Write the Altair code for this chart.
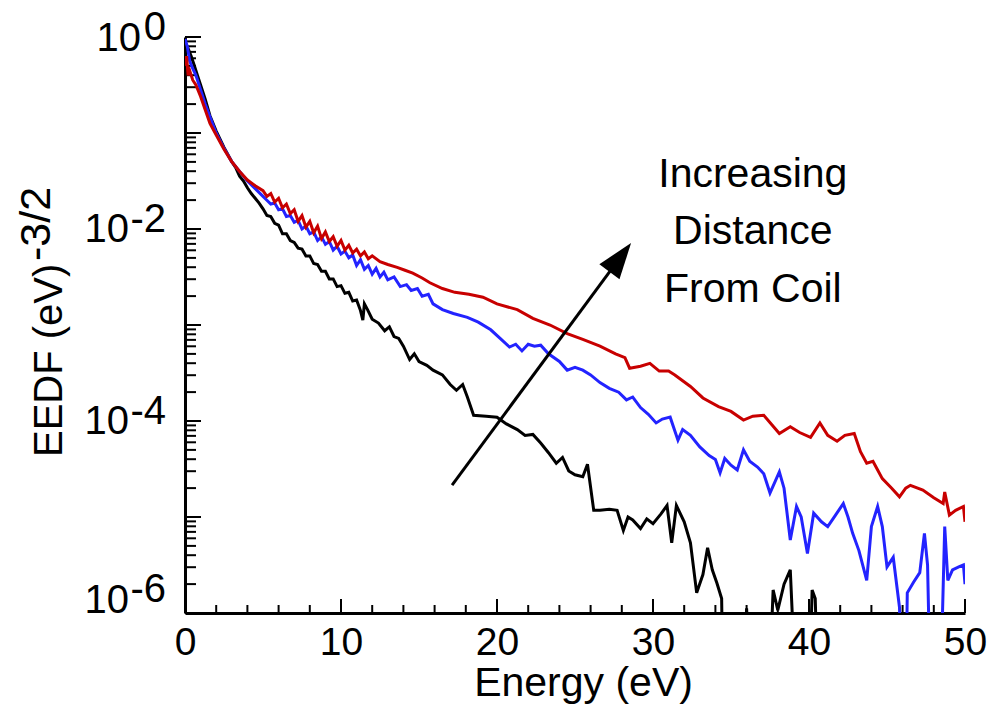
import altair as alt
import pandas as pd

# ---------------- data (log10 of EEDF) ----------------
black_E = [0.0,0.2,0.4,0.6,0.8,1.0,1.3,1.6,2.0,2.5,3.0,3.25,3.5,3.75,4.0,4.25,4.5,4.75,5.0,5.25,
           5.5,5.75,6.0,6.25,6.5,6.75,7.0,7.25,7.5,7.75,8.0,8.25,8.5,8.75,9.0,9.25,9.5,9.75,10.0,10.25,
           10.5,10.75,11.0,11.25,11.4,11.5,11.7,12.0,12.4,12.8,13.1,13.4,13.7,14.0,14.4,14.7,15.0,15.5,15.9,16.5,
           17.0,17.4,17.8,18.1,18.5,19.3,20.0,20.6,21.3,21.8,22.3,22.8,23.3,23.8,24.2,24.6,25.0,25.5,25.8,26.2,
           26.6,27.2,27.7,28.1,28.4,28.7,29.2,29.6,30.0,30.5,30.9,31.2,31.5,32.0,32.4,32.8,33.2,33.5,33.8,34.1,
           34.4,34.5,35.8,36.0,36.3,37.4,37.7,38.0,38.4,38.8,39.2,40.0,40.2,40.4,40.6,50.0]
black_log = [-0.05,-0.12,-0.2,-0.3,-0.4,-0.5,-0.65,-0.82,-0.98,-1.15,-1.3,-1.36,-1.45,-1.5,-1.57,-1.63,-1.68,-1.73,-1.79,-1.86,
             -1.87,-1.94,-1.96,-2.05,-2.05,-2.12,-2.14,-2.2,-2.21,-2.28,-2.28,-2.36,-2.37,-2.44,-2.44,-2.52,-2.52,-2.6,-2.59,-2.67,
             -2.66,-2.75,-2.74,-2.85,-2.95,-2.78,-2.84,-2.94,-2.98,-3.06,-3.02,-3.12,-3.14,-3.22,-3.36,-3.3,-3.38,-3.42,-3.47,-3.52,
             -3.62,-3.68,-3.62,-3.75,-3.94,-3.95,-3.96,-4.03,-4.09,-4.15,-4.14,-4.23,-4.33,-4.44,-4.38,-4.52,-4.56,-4.58,-4.45,-4.93,
             -4.93,-4.92,-4.93,-5.14,-5.0,-5.03,-5.12,-5.02,-5.07,-4.97,-4.88,-5.27,-4.88,-5.05,-5.27,-5.79,-5.6,-5.32,-5.55,-5.69,
             -5.85,-7,-7,-5.95,-7,-7,-5.76,-5.97,-5.7,-5.55,-7,-7,-5.76,-5.85,-7,-7]

blue_E = [0.0,0.15,0.3,0.5,0.7,1.0,1.3,1.6,2.0,2.5,3.0,3.5,4.0,4.5,5.0,5.25,5.5,5.75,6.0,6.25,
          6.5,6.75,7.0,7.25,7.5,7.75,8.0,8.25,8.5,8.75,9.0,9.25,9.5,9.75,10.0,10.25,10.5,10.75,11.0,11.25,
          11.5,11.75,12.0,12.25,12.5,12.75,13.0,13.4,13.8,14.2,14.5,14.9,15.2,15.6,15.9,16.5,17.2,18.1,18.8,19.6,
          20.2,20.8,21.2,21.6,22.0,22.4,22.8,23.3,24.0,24.5,25.0,25.5,26.0,26.6,27.2,27.8,28.3,28.7,29.2,29.7,
          30.2,30.6,31.1,31.6,31.9,32.4,33.0,33.6,34.0,34.3,34.6,35.0,35.4,35.8,36.2,36.7,37.1,37.5,38.1,38.4,
          38.8,39.2,39.5,39.9,40.3,40.8,41.2,41.7,42.2,42.5,42.8,43.2,43.7,44.0,44.4,44.7,45.0,45.4,45.8,46.0,
          46.2,46.3,46.7,47.1,47.4,47.6,47.8,48.4,48.7,48.9,49.2,49.6,49.9,50.0]
blue_log = [-0.02,-0.1,-0.25,-0.33,-0.4,-0.55,-0.7,-0.83,-1.0,-1.16,-1.3,-1.4,-1.5,-1.58,-1.66,-1.70,-1.74,-1.73,-1.80,-1.79,
            -1.87,-1.86,-1.93,-1.91,-2.0,-1.97,-2.05,-2.03,-2.12,-2.08,-2.16,-2.13,-2.22,-2.18,-2.26,-2.23,-2.30,-2.27,-2.38,-2.32,
            -2.42,-2.38,-2.47,-2.41,-2.50,-2.45,-2.53,-2.50,-2.60,-2.58,-2.64,-2.62,-2.70,-2.68,-2.78,-2.84,-2.88,-2.92,-2.97,-3.05,
            -3.14,-3.23,-3.2,-3.27,-3.2,-3.22,-3.21,-3.3,-3.38,-3.47,-3.44,-3.47,-3.52,-3.6,-3.66,-3.7,-3.78,-3.75,-3.86,-3.93,
            -4.02,-3.98,-3.96,-4.2,-4.09,-4.15,-4.27,-4.36,-4.4,-4.54,-4.39,-4.46,-4.51,-4.3,-4.42,-4.48,-4.55,-4.75,-4.53,-4.7,
            -5.24,-4.89,-5.0,-5.38,-4.96,-5.05,-5.10,-4.98,-4.86,-5.0,-5.17,-5.35,-5.66,-5.1,-4.89,-5.1,-5.52,-5.42,-5.94,-7,
            -7,-5.79,-5.68,-5.58,-5.17,-5.5,-7,-7,-5.10,-5.66,-5.55,-5.52,-5.5,-5.7]

red_E = [0.0,0.1,0.2,0.3,0.5,0.7,1.0,1.3,1.6,2.0,2.5,3.0,3.5,4.0,4.5,5.0,5.25,5.5,5.75,6.0,
         6.25,6.5,6.75,7.0,7.25,7.5,7.75,8.0,8.25,8.5,8.75,9.0,9.25,9.5,9.75,10.0,10.25,10.5,10.75,11.0,
         11.25,11.5,11.75,12.0,12.5,13.0,13.6,14.1,14.6,15.2,15.7,16.5,17.3,18.2,19.1,20.0,21.3,22.3,23.4,24.5,
         25.5,26.6,27.6,28.2,28.5,29.2,29.8,30.4,31.0,31.4,32.4,33.2,34.2,35.0,35.8,36.4,37.1,38.1,38.8,39.4,
         40.1,40.7,41.2,41.8,42.3,42.9,43.3,43.7,44.1,44.4,44.7,45.3,45.8,46.2,46.5,47.3,48.0,48.6,48.7,49.0,
         49.4,49.9,50.0]
red_log = [-0.3,-0.2,-0.4,-0.35,-0.45,-0.5,-0.62,-0.76,-0.9,-1.02,-1.17,-1.3,-1.4,-1.49,-1.55,-1.60,-1.66,-1.63,-1.72,-1.68,
           -1.78,-1.74,-1.84,-1.80,-1.92,-1.86,-1.98,-1.92,-2.04,-1.97,-2.10,-2.03,-2.13,-2.08,-2.18,-2.12,-2.22,-2.17,-2.25,-2.21,
           -2.28,-2.24,-2.31,-2.28,-2.34,-2.37,-2.4,-2.43,-2.46,-2.51,-2.56,-2.62,-2.66,-2.68,-2.71,-2.78,-2.84,-2.93,-3.0,-3.09,
           -3.15,-3.22,-3.3,-3.34,-3.45,-3.43,-3.4,-3.48,-3.48,-3.52,-3.64,-3.76,-3.85,-3.9,-3.99,-3.95,-3.94,-4.13,-4.06,-4.12,
           -4.17,-4.02,-4.15,-4.21,-4.15,-4.13,-4.32,-4.44,-4.42,-4.51,-4.6,-4.7,-4.79,-4.7,-4.67,-4.72,-4.8,-4.86,-4.74,-4.98,
           -4.93,-4.89,-5.05]

# axis ticks / labels
x_major = [0, 10, 20, 30, 40, 50]
x_minor = [2, 4, 6, 8, 12, 14, 16, 18, 22, 24, 26, 28, 32, 34, 36, 38, 42, 44, 46, 48]
y_major = [1e0, 1e-1, 1e-2, 1e-3, 1e-4, 1e-5, 1e-6]
y_minor = [k * d for d in [1e-1, 1e-2, 1e-3, 1e-4, 1e-5, 1e-6] for k in range(2, 10)]
y_label_exp = ["0", "-2", "-4", "-6"]
y_label_val = [1e0, 1e-2, 1e-4, 1e-6]

# annotation
ann_text = ["Increasing", "Distance", "From Coil"]
ann_E = [36.4, 36.4, 36.4]
ann_v = [0.0274, 0.00698, 0.00174]
arrow_E = [17.12, 27.9]
arrow_v = [2.15e-5, 5.06e-3]

FONT = "Liberation Sans"
W, H = 780, 576


def curve(E, lg):
    return pd.DataFrame({"E": E, "v": [10 ** x for x in lg]})


xs = alt.Scale(domain=[0, 50], nice=False, zero=False)
ys = alt.Scale(type="log", domain=[1e-6, 1], nice=False)

X = alt.X("E:Q", scale=xs,
          axis=alt.Axis(values=x_major, ticks=False, grid=False, domainColor="black", domainWidth=3,
                        labelFont=FONT, labelFontSize=39, labelColor="black", labelPadding=10,
                        labelFlush=False, labelOverlap=False,
                        title="Energy (eV)", titleFont=FONT, titleFontSize=41, titleFontWeight="normal",
                        titleColor="black", titleX=398, titleY=82, titleBaseline="alphabetic"))
Y = alt.Y("v:Q", scale=ys, title=None,
          axis=alt.Axis(labels=False, ticks=False, grid=False, domainColor="black", domainWidth=3))

layers = []
# inward ticks
layers.append(alt.Chart(pd.DataFrame({"E": x_major})).mark_rule(color="black", strokeWidth=2)
              .encode(x=X, y=alt.value(H), y2=alt.value(H - 14)))
layers.append(alt.Chart(pd.DataFrame({"E": x_minor})).mark_rule(color="black", strokeWidth=2)
              .encode(x=X, y=alt.value(H), y2=alt.value(H - 8)))
layers.append(alt.Chart(pd.DataFrame({"v": y_major})).mark_rule(color="black", strokeWidth=2)
              .encode(y=Y, x=alt.value(0), x2=alt.value(16)))
layers.append(alt.Chart(pd.DataFrame({"v": y_minor})).mark_rule(color="black", strokeWidth=2)
              .encode(y=Y, x=alt.value(0), x2=alt.value(11)))

# y tick labels "10" with superscript exponent
lab = pd.DataFrame({"v": y_label_val, "e": y_label_exp, "b": ["10"] * 4})
txt = dict(font=FONT, fontSize=40, color="black", align="right", baseline="alphabetic")
layers.append(alt.Chart(lab.iloc[[0]]).mark_text(dy=14, **txt).encode(y=Y, x=alt.value(-44), text="b:N"))
layers.append(alt.Chart(lab.iloc[[1, 2]]).mark_text(dy=13, **txt).encode(y=Y, x=alt.value(-56), text="b:N"))
layers.append(alt.Chart(lab.iloc[[3]]).mark_text(dy=0, **txt).encode(y=Y, x=alt.value(-56), text="b:N"))
layers.append(alt.Chart(lab.iloc[[0, 1, 2]]).mark_text(dy=3, **txt).encode(y=Y, x=alt.value(-19), text="e:N"))
layers.append(alt.Chart(lab.iloc[[3]]).mark_text(dy=-11, **txt).encode(y=Y, x=alt.value(-19), text="e:N"))

# y axis title with superscript
layers.append(alt.Chart(pd.DataFrame({"t": ["EEDF (eV)"]}))
              .mark_text(font=FONT, fontSize=40, color="black", angle=270, align="left", baseline="alphabetic")
              .encode(x=alt.value(-123), y=alt.value(420), text="t:N"))
layers.append(alt.Chart(pd.DataFrame({"t": ["-3/2"]}))
              .mark_text(font=FONT, fontSize=43, color="black", angle=270, align="left", baseline="alphabetic")
              .encode(x=alt.value(-135), y=alt.value(224), text="t:N"))

# curves
layers.append(alt.Chart(curve(black_E, black_log)).mark_line(color="black", strokeWidth=3, clip=True)
              .encode(x=X, y=Y, order="E:Q"))
layers.append(alt.Chart(curve(blue_E, blue_log)).mark_line(color="#2323ff", strokeWidth=3, clip=True)
              .encode(x=X, y=Y, order="E:Q"))
layers.append(alt.Chart(curve(red_E, red_log)).mark_line(color="#c80000", strokeWidth=3, clip=True)
              .encode(x=X, y=Y, order="E:Q"))

# arrow
arrow = pd.DataFrame({"E": arrow_E, "v": arrow_v})
layers.append(alt.Chart(arrow).mark_line(color="black", strokeWidth=3).encode(x=X, y=Y, order="E:Q"))
layers.append(alt.Chart(arrow.iloc[[1]]).mark_point(shape="M0,-1L-0.7,1L0.7,1Z", size=1296, filled=True,
                                                    color="black", opacity=1, angle=37, strokeWidth=0)
              .encode(x=X, y=Y))

# annotation text
ann = pd.DataFrame({"E": ann_E, "v": ann_v, "t": ann_text})
layers.append(alt.Chart(ann).mark_text(font=FONT, fontSize=41, color="black", align="center", baseline="alphabetic")
              .encode(x=X, y=Y, text="t:N"))

chart = alt.layer(*layers).properties(
    width=W, height=H,
    autosize=alt.AutoSizeParams(type="none"),
    padding={"left": 185, "top": 37, "right": 24, "bottom": 110},
    background="white",
).configure_view(stroke=None)

chart.save("out.html", embed_options={"renderer": "svg", "actions": False})
